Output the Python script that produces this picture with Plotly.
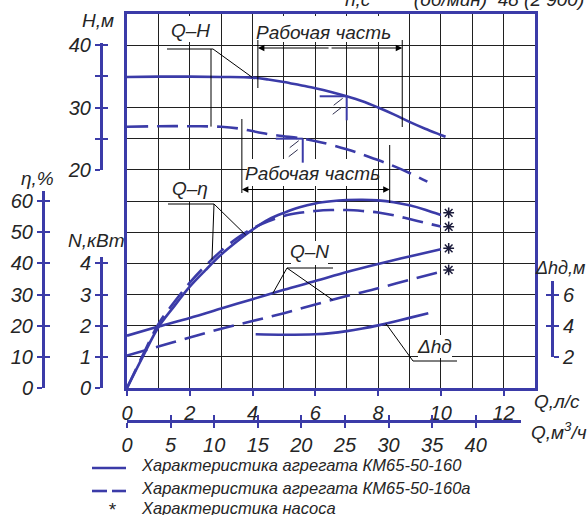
import numpy as np
import plotly.graph_objects as go

# ---------------- data ----------------
Q_H_160 = [0, 1, 2, 3, 4, 4.5, 5, 5.5, 6, 6.5, 7, 7.5, 8, 8.5, 9, 9.5, 10, 10.15]
H_160 = [34.9, 34.95, 34.95, 34.9, 34.8, 34.5, 34.1, 33.6, 33.1, 32.5, 31.8, 31.0, 30.0, 28.9, 27.7, 26.6, 25.6, 25.3]

Q_H_160a = [0, 1, 2, 3, 3.6, 4.2, 4.8, 5.6, 6.2, 7.0, 7.7, 8.4, 9.0, 9.57]
H_160a = [26.9, 27.0, 27.0, 26.9, 26.6, 26.0, 25.5, 25.0, 24.4, 23.3, 22.1, 20.8, 19.5, 18.1]

Q_eta = [0, 0.5, 1, 1.5, 2, 2.5, 3, 3.5, 4, 4.5, 5, 5.5, 6, 6.5, 7, 7.5, 8, 8.5, 9, 9.5, 10]
eta_160 = [0, 10, 19.5, 26.2, 32.5, 37.8, 42.8, 47, 50.8, 54, 56.2, 58, 59.2, 59.9, 60.3, 60.4, 60.2, 59.6, 58.6, 57.2, 55.5]
eta_160a = [0, 10.5, 20.5, 27.5, 33.8, 39.2, 44, 48, 51.2, 53.5, 55.2, 56.2, 56.8, 57.1, 57.1, 56.8, 56.3, 55.4, 54.2, 53.0, 51.8]

Q_N = [0, 1, 2, 3, 4, 5, 6, 7, 8, 9, 10]
N_160 = [1.68, 1.97, 2.25, 2.55, 2.85, 3.15, 3.43, 3.72, 3.98, 4.22, 4.45]
N_160a = [1.04, 1.33, 1.62, 1.9, 2.15, 2.4, 2.68, 2.95, 3.2, 3.47, 3.73]

Q_dh = [4.1, 5, 6, 6.5, 7, 7.5, 8, 8.5, 9, 9.6]
dh = [3.45, 3.42, 3.45, 3.52, 3.65, 3.82, 4.02, 4.25, 4.5, 4.8]

Q_pump = [10.25, 10.25]
eta_pump = [56.2, 51.7]
N_pump = [4.48, 3.79]

work_160 = [4.17, 8.77]     # "Рабочая часть" КМ65-50-160
work_160a = [3.66, 8.37]    # "Рабочая часть" КМ65-50-160а
nominal_160 = 7.0
nominal_160a = 5.6

H_ticks = [20, 25, 30, 35, 40]
H_ticktext = ["20", "", "30", "", "40"]
eta_ticks = [0, 10, 20, 30, 40, 50, 60]
N_ticks = [0, 1, 2, 3, 4]
dh_ticks = [2, 4, 6]
Q_ls_ticks = [0, 2, 4, 6, 8, 10, 12]
Q_m3h_ticks = [0, 5, 10, 15, 20, 25, 30, 35, 40]

legend_texts = ["Характеристика агрегата КМ65-50-160",
                "Характеристика агрегата КМ65-50-160а",
                "Характеристика насоса"]

# ---------------- layout geometry ----------------
W, HGT = 588, 515
PX0, PX1, PY0, PY1 = 127, 535, 14, 388
Q_MAX = 13.0
H_LO, H_HI = -15, 45
ETA_HI, N_HI, DH_HI = 120, 12, 24

BLUE = "#3b3ba8"
GRID = "#202020"
TXT = "#252525"
FONT = "Liberation Sans, Arial, sans-serif"


def it(v):
    return f"<i>{v}</i>" if str(v) else ""


def fx(px):
    return px / W


def fy(py):
    return 1 - py / HGT


def q_of(px):
    return (px - PX0) * Q_MAX / (PX1 - PX0)


def h_of(py):
    return H_HI - (py - PY0) * (H_HI - H_LO) / (PY1 - PY0)


def py_lin(v, hi):
    return PY1 - v / hi * (PY1 - PY0)


def py_H(v):
    return PY0 + (H_HI - v) / (H_HI - H_LO) * (PY1 - PY0)


def eta_to_h(v):
    return h_of(py_lin(v, ETA_HI))


def n_to_h(v):
    return h_of(py_lin(v, N_HI))


def dh_to_h(v):
    return h_of(py_lin(v, DH_HI))


fig = go.Figure()

LW = 2.6
DASH = "21px,9px"

fig.add_trace(go.Scatter(x=Q_H_160, y=H_160, mode="lines", line=dict(color=BLUE, width=LW, shape="spline"), xaxis="x", yaxis="y"))
fig.add_trace(go.Scatter(x=Q_H_160a, y=H_160a, mode="lines", line=dict(color=BLUE, width=LW, dash=DASH, shape="spline"), xaxis="x", yaxis="y"))
fig.add_trace(go.Scatter(x=Q_eta, y=eta_160, mode="lines", line=dict(color=BLUE, width=LW, shape="spline"), xaxis="x", yaxis="y2"))
fig.add_trace(go.Scatter(x=Q_eta, y=eta_160a, mode="lines", line=dict(color=BLUE, width=LW, dash=DASH, shape="spline"), xaxis="x", yaxis="y2"))
fig.add_trace(go.Scatter(x=Q_N, y=N_160, mode="lines", line=dict(color=BLUE, width=LW, shape="spline"), xaxis="x", yaxis="y3"))
fig.add_trace(go.Scatter(x=Q_N, y=N_160a, mode="lines", line=dict(color=BLUE, width=LW, dash=DASH, shape="spline"), xaxis="x", yaxis="y3"))
fig.add_trace(go.Scatter(x=Q_dh, y=dh, mode="lines", line=dict(color=BLUE, width=LW, shape="spline"), xaxis="x", yaxis="y4"))
ast = dict(symbol="asterisk-open", size=9, color="#1c1c3c", line=dict(width=1.5, color="#1c1c3c"))
fig.add_trace(go.Scatter(x=Q_pump, y=eta_pump, mode="markers", marker=ast, xaxis="x", yaxis="y2"))
fig.add_trace(go.Scatter(x=Q_pump, y=N_pump, mode="markers", marker=ast, xaxis="x", yaxis="y3"))

# dummy traces so the side scales are drawn
for k in range(5, 13):
    fig.add_trace(go.Scatter(x=[None], y=[None], xaxis="x4", yaxis=f"y{k}", hoverinfo="skip"))
fig.add_trace(go.Scatter(x=[None], y=[None], xaxis="x2", yaxis="y13", hoverinfo="skip"))
fig.add_trace(go.Scatter(x=[None], y=[None], xaxis="x3", yaxis="y13", hoverinfo="skip"))

tickfont = dict(family=FONT, size=20, color=TXT)
main_dom_y = [fy(PY1), fy(PY0)]

layout = dict(
    width=W, height=HGT, margin=dict(l=0, r=0, t=0, b=0),
    paper_bgcolor="white", plot_bgcolor="rgba(0,0,0,0)",
    showlegend=False, template="none",
    xaxis=dict(domain=[fx(PX0), fx(PX1)], range=[0, Q_MAX], tickmode="array", tickvals=Q_ls_ticks,
               ticktext=[it(v) for v in Q_ls_ticks],
               showgrid=True, gridcolor=GRID, gridwidth=1,
               minor=dict(dtick=1, tick0=0, showgrid=True, gridcolor=GRID, gridwidth=1, ticks=""),
               showline=True, mirror=True, linecolor=BLUE, linewidth=3,
               ticks="outside", ticklen=5, tickwidth=2, tickcolor=BLUE,
               tickfont=tickfont, zeroline=False, automargin=False, anchor="y"),
    yaxis=dict(domain=main_dom_y, range=[H_LO, H_HI], tickmode="linear", tick0=H_LO, dtick=5,
               showgrid=True, gridcolor=GRID, gridwidth=1, showticklabels=False, ticks="",
               showline=True, mirror=True, linecolor=BLUE, linewidth=3, zeroline=False,
               automargin=False, anchor="x"),
    yaxis2=dict(overlaying="y", range=[0, ETA_HI], visible=False),
    yaxis3=dict(overlaying="y", range=[0, N_HI], visible=False),
    yaxis4=dict(overlaying="y", range=[0, DH_HI], visible=False),
    xaxis4=dict(domain=[0, 0.01], range=[0, 1], visible=False, anchor="y5"),
    yaxis13=dict(domain=[0, 0.01], range=[0, 1], visible=False, anchor="x2"),
)


def side_axes(k_out, k_in, pos_px, lo, hi, to_py, tickvals, ticktext, side="left"):
    dom = [fy(to_py(lo)), fy(to_py(hi))]
    base = dict(domain=dom, range=[lo, hi], anchor="free", position=fx(pos_px),
                showline=True, linecolor=BLUE, linewidth=3, showgrid=False, zeroline=False,
                tickmode="array", tickvals=tickvals, ticklen=5, tickwidth=2, tickcolor=BLUE,
                side=side, automargin=False)
    layout[f"yaxis{k_out}"] = dict(base, ticks="outside", ticktext=[it(t) for t in ticktext], tickfont=tickfont)
    layout[f"yaxis{k_in}"] = dict(base, ticks="inside", showticklabels=False)


side_axes(5, 6, 101, 20, 40.4, py_H, H_ticks, H_ticktext)
side_axes(7, 8, 43, 0, 63.3, lambda v: py_lin(v, ETA_HI), eta_ticks, [str(v) for v in eta_ticks])
side_axes(9, 10, 101, 0, 4.2, lambda v: py_lin(v, N_HI), N_ticks, [str(v) for v in N_ticks])
side_axes(11, 12, 552, 2, 6.85, lambda v: py_lin(v, DH_HI), dh_ticks, [str(v) for v in dh_ticks], side="right")

M3_END_PX = 521
m3_range = [0, Q_MAX * 3.6 * (M3_END_PX - PX0) / (PX1 - PX0)]
xb = dict(domain=[fx(PX0), fx(M3_END_PX)], range=m3_range, anchor="free", position=fy(421),
          showline=True, linecolor=BLUE, linewidth=3, showgrid=False, zeroline=False,
          tickmode="array", tickvals=Q_m3h_ticks, ticklen=5, tickwidth=2, tickcolor=BLUE,
          side="bottom", automargin=False)
layout["xaxis2"] = dict(xb, ticks="outside", ticktext=[it(v) for v in Q_m3h_ticks], tickfont=tickfont)
layout["xaxis3"] = dict(xb, ticks="inside", showticklabels=False)

fig.update_layout(**layout)

# ---------------- shapes ----------------
shapes = []


def seg(x0, y0, x1, y1, color="black", width=1, dash=None, ref=("x", "y")):
    d = dict(type="line", x0=x0, y0=y0, x1=x1, y1=y1, xref=ref[0], yref=ref[1],
             line=dict(color=color, width=width), layer="above")
    if dash:
        d["line"]["dash"] = dash
    shapes.append(d)


def white_box(x0, y0, x1, y1):
    shapes.append(dict(type="rect", xref="x", yref="y", x0=q_of(x0), x1=q_of(x1), y0=h_of(y1), y1=h_of(y0),
                       fillcolor="white", line=dict(width=0), layer="between"))


white_box(165, 16, 216, 42)
white_box(255, 16, 400, 42)
white_box(169, 170, 213, 201)
white_box(247, 159, 373, 186)
white_box(291, 241, 328, 265)
white_box(418, 335, 452, 358)

# leaders Q-H
yL = h_of(49)
seg(q_of(167), yL, q_of(213), yL)
seg(q_of(213), yL, 4.0, float(np.interp(4.0, Q_H_160, H_160)))
qv = q_of(211)
seg(qv, yL, qv, float(np.interp(qv, Q_H_160a, H_160a)))
# leaders Q-eta
yL = h_of(204)
seg(q_of(168), yL, q_of(214), yL)
seg(q_of(214), yL, 3.78, eta_to_h(float(np.interp(3.78, Q_eta, eta_160))))
qv = q_of(212)
seg(q_of(214), yL, qv, eta_to_h(float(np.interp(qv, Q_eta, eta_160a))))
# leaders Q-N
yL = h_of(268)
seg(q_of(287), yL, q_of(333), yL)
seg(q_of(287), yL, 4.65, n_to_h(float(np.interp(4.65, Q_N, N_160))))
seg(q_of(287), yL, 6.55, n_to_h(float(np.interp(6.55, Q_N, N_160a))))
# leader dh
yL = h_of(361)
seg(q_of(413), yL, q_of(457), yL)
seg(q_of(413), yL, 8.25, dh_to_h(float(np.interp(8.25, Q_dh, dh))))

# working range extension lines
seg(work_160[0], h_of(40), work_160[0], h_of(88))
seg(work_160[1], h_of(40), work_160[1], h_of(127))
seg(work_160a[0], h_of(119), work_160a[0], h_of(193))
seg(work_160a[1], h_of(145), work_160a[1], eta_to_h(float(np.interp(work_160a[1], Q_eta, eta_160))) - 0.2)


# nominal point markers with hatching
def nominal(qn, qs, hs):
    hn = float(np.interp(qn, qs, hs))
    x = qn
    dx = Q_MAX / (PX1 - PX0)
    dy = (H_HI - H_LO) / (PY1 - PY0)
    seg(x - 27 * dx, hn, x, hn, color=BLUE, width=2)
    seg(x, hn, x, hn - 24 * dy, color=BLUE, width=2)
    seg(x - 4 * dx, hn - 2 * dy, x - 13 * dx, hn - 9 * dy, color="#303050", width=1)
    seg(x - 5 * dx, hn - 11 * dy, x - 14 * dx, hn - 18 * dy, color="#303050", width=1)


nominal(nominal_160, Q_H_160, H_160)
nominal(nominal_160a, Q_H_160a, H_160a)

# legend line samples
seg(fx(92), fy(468), fx(126), fy(468), color=BLUE, width=2.6, ref=("paper", "paper"))
seg(fx(92), fy(491), fx(107), fy(491), color=BLUE, width=2.6, ref=("paper", "paper"))
seg(fx(112), fy(491), fx(126), fy(491), color=BLUE, width=2.6, ref=("paper", "paper"))

fig.update_layout(shapes=shapes)

# ---------------- annotations ----------------
ann = []


def ptext(px, py, text, size=19, xanchor="center", yanchor="middle", color=TXT):
    ann.append(dict(x=fx(px), y=fy(py), xref="paper", yref="paper", text=f"<i>{text}</i>", showarrow=False,
                    font=dict(family=FONT, size=size, color=color),
                    xanchor=xanchor, yanchor=yanchor))


def dim_arrow(q_tip, q_tail, hval):
    ann.append(dict(x=q_tip, y=hval, ax=q_tail, ay=hval, xref="x", yref="y", axref="x", ayref="y",
                    text="", showarrow=True, arrowhead=2, arrowsize=1.3, arrowwidth=1, arrowcolor="black"))


hd = h_of(48)
mid = (work_160[0] + work_160[1]) / 2
dim_arrow(work_160[0], mid, hd)
dim_arrow(work_160[1], mid, hd)
hd = h_of(189.5)
mid = (work_160a[0] + work_160a[1]) / 2
dim_arrow(work_160a[0], mid, hd)
dim_arrow(work_160a[1], mid, hd)

ptext(190, 31, "Q–H")
ptext(324, 32, "Рабочая часть")
ptext(312, 173, "Рабочая часть")
ptext(190, 188, "Q–η")
ptext(309, 251, "Q–N")
ptext(434, 346, "Δhд")

ptext(98, 21, "H,м")
ptext(37, 178, "η,%")
ptext(96, 240, "N,кВт")
ptext(587, 268, "Δhд,м", size=18, xanchor="right")
ptext(557, 401, "Q,л/с")
ptext(559, 431, "Q,м<sup>3</sup>/ч")
ptext(586, -2, "n,с<sup>-1</sup>      (об/мин)  48 (2 900)", xanchor="right")

LEG = 16.5
ptext(139, 465, legend_texts[0], size=LEG, xanchor="left")
ptext(139, 488, legend_texts[1], size=LEG, xanchor="left")
ptext(112, 509, "*", xanchor="center")
ptext(139, 508, legend_texts[2], size=LEG, xanchor="left")

fig.update_layout(annotations=ann)

fig.write_html("out.html")
